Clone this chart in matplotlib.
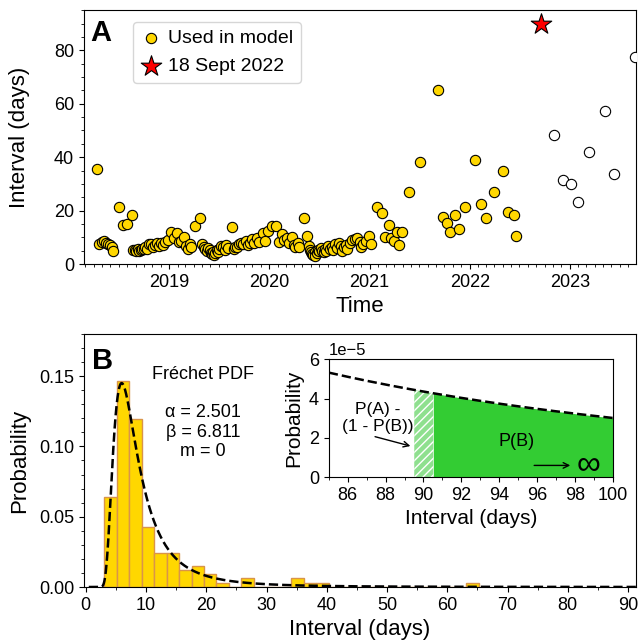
import numpy as np
import pandas as pd
import matplotlib
matplotlib.use("Agg")
import matplotlib.pyplot as plt
import matplotlib.dates as mdates
from matplotlib.ticker import MultipleLocator, FormatStrFormatter

plt.rcParams['font.family'] = ['Liberation Sans', 'DejaVu Sans']

# %% data

star_date = pd.Timestamp("2022-09-18")
star_interval = 90

# intervals (days) used in the model, in time order
used_intervals = [
    35.5, 7.5, 8.2, 8.5, 7.9, 7.6, 7.0, 6.2, 4.8, 21.2, 14.5, 14.9, 18.2,
    # mid 2018 -> 2019
    5.2, 5.4, 4.8, 5.6, 4.9, 5.3, 5.5,
    5.8, 6.2, 5.6, 7.6, 7.4, 6.4, 7.0, 7.8, 6.8, 8.0, 7.2, 8.4, 9.0,
    11.9,
    9.6, 11.8, 8.2, 8.8, 10.0, 6.6, 5.8, 7.4, 6.2,
    14.3, 17.4,
    7.6, 6.4, 5.6, 4.8, 6.0, 5.2, 4.2, 3.6, 4.4, 3.2, 4.0, 5.3, 4.6, 5.8, 6.8, 6.2, 5.4, 7.0, 6.0,
    14.0,
    5.8, 6.4, 6.2, 7.6, 7.8, 7.4, 8.6, 7.2, 8.0, 9.4, 7.8, 9.8, 8.4, 11.6, 8.8, 12.4,
    # 2020
    14.3, 14.3,
    8.2, 11.3, 9.0, 9.6, 8.0, 10.2, 7.0, 6.4, 7.8, 6.2,
    17.4, 10.6,
    6.6, 5.2, 4.4, 3.8, 3.3, 4.6, 3.05, 4.2, 5.4, 4.7, 6.0, 4.9, 4.5,
    5.6, 4.8, 6.8, 5.8, 6.4, 5.2, 7.4, 6.0, 7.8, 6.6, 5.0,
    6.4, 7.2, 5.6, 8.0, 9.0, 9.4, 9.8, 8.4, 6.2, 7.6, 8.8, 10.4, 7.4,
    # 2021 -> mid 2022
    21.5, 19.0, 10.1, 14.5, 9.8, 8.8, 11.9, 7.0, 11.9, 26.8, 38.1, 65.2,
    17.5, 15.4, 11.9, 18.5, 13.1, 21.3, 38.9, 22.4, 17.4, 26.9, 34.7, 19.5,
    18.4, 10.5,
]

# intervals after 18 Sept 2022 (not used in model)
later_intervals = [48.2, 31.5, 30.0, 23.4, 41.8, 57.2, 33.8, 77.6]

alpha_f = 2.501
beta_f = 6.811
m_f = 0


def frechet_pdf(x, a, b, m):
    z = (x - m) / b
    return (a / b) * z ** (-1 - a) * np.exp(-z ** (-a))


# event dates: last used event is star_interval days before the star
used = np.array(used_intervals)
last_used = star_date - pd.Timedelta(days=star_interval)
rc = np.cumsum(used[::-1])[::-1]
back = np.append(rc[1:], 0.0)
used_dates = last_used - pd.to_timedelta(back, unit="D")
later = np.array(later_intervals)
later_dates = star_date + pd.to_timedelta(np.cumsum(later), unit="D")

# %% figure

fig = plt.figure(figsize=(6.41, 6.44), dpi=100)
ax1 = fig.add_axes([0.131, 0.590, 0.861, 0.394])
ax2 = fig.add_axes([0.131, 0.0885, 0.861, 0.393])
ax3 = fig.add_axes([0.513, 0.259, 0.443, 0.183])

gold = "#FFD700"

# Panel A
ax1.scatter(used_dates, used, s=55, c=gold, edgecolors="black", linewidths=0.8,
            label="Used in model", zorder=3)
ax1.scatter(later_dates, later, s=55, facecolors="white", edgecolors="black",
            linewidths=0.8, zorder=3)
ax1.scatter([star_date], [star_interval], marker="*", s=240, c="red",
            edgecolors="black", linewidths=0.8, label="18 Sept 2022", zorder=4)
ax1.set_xlim(pd.Timestamp("2018-02-25"), later_dates[-1] + pd.Timedelta(days=2))
ax1.set_ylim(0, 95)
ax1.xaxis.set_major_locator(mdates.YearLocator())
ax1.xaxis.set_minor_locator(mdates.MonthLocator())
ax1.xaxis.set_major_formatter(mdates.DateFormatter("%Y"))
ax1.yaxis.set_major_locator(MultipleLocator(20))
ax1.yaxis.set_minor_locator(MultipleLocator(5))
ax1.set_xlabel("Time", fontsize=16)
ax1.set_ylabel("Interval (days)", fontsize=16)
ax1.yaxis.set_label_coords(-0.097, 0.5)
ax1.tick_params(labelsize=13)
ax1.legend(loc="upper left", bbox_to_anchor=(0.089, 0.955), borderaxespad=0,
           fontsize=14, handlelength=1.0, handletextpad=0.4, borderpad=0.4,
           labelspacing=0.55)
ax1.text(0.012, 0.965, "A", transform=ax1.transAxes, fontsize=21,
         fontweight="bold", va="top", ha="left")

# Panel B
ax2.hist(used, bins=30, density=True, color=gold, edgecolor="#D9944A", linewidth=1.0)
xx = np.linspace(0.5, 91.5, 2000)
ax2.plot(xx, frechet_pdf(xx, alpha_f, beta_f, m_f), "k--", lw=1.8)
ax2.set_xlim(-0.3, 91.3)
ax2.set_ylim(0, 0.18)
ax2.xaxis.set_major_locator(MultipleLocator(10))
ax2.xaxis.set_minor_locator(MultipleLocator(5))
ax2.yaxis.set_major_locator(MultipleLocator(0.05))
ax2.yaxis.set_minor_locator(MultipleLocator(0.01))
ax2.yaxis.set_major_formatter(FormatStrFormatter("%.2f"))
ax2.set_xlabel("Interval (days)", fontsize=16)
ax2.set_ylabel("Probability", fontsize=16)
ax2.yaxis.set_label_coords(-0.097, 0.5)
ax2.tick_params(labelsize=13)
ax2.text(0.015, 0.95, "B", transform=ax2.transAxes, fontsize=21,
         fontweight="bold", va="top", ha="left")
ax2.text(19.5, 0.151, "Fréchet PDF", fontsize=13, ha="center", va="center")
ax2.text(19.5, 0.110, "α = %.3f\nβ = %.3f\nm = %d" % (alpha_f, beta_f, m_f),
         fontsize=13, ha="center", va="center", linespacing=1.2)

# Inset
xi = np.linspace(85, 100, 400)
yi = frechet_pdf(xi, alpha_f, beta_f, m_f)
sel = xi >= 90.5
ax3.fill_between(xi[sel], 0, yi[sel], color="#33CC33", lw=0)
selh = (xi >= 89.5) & (xi <= 90.55)
ax3.fill_between(xi[selh], 0, yi[selh], facecolor="#8FE08F", edgecolor="white",
                 hatch="////", lw=0)
ax3.plot(xi, yi, "k--", lw=1.8)
ax3.set_xlim(85, 100)
ax3.set_ylim(0, 6e-5)
ax3.xaxis.set_major_locator(MultipleLocator(2))
ax3.xaxis.set_minor_locator(MultipleLocator(1))
ax3.yaxis.set_major_locator(MultipleLocator(2e-5))
ax3.set_xlabel("Interval (days)", fontsize=15)
ax3.set_ylabel("Probability", fontsize=15)
ax3.tick_params(labelsize=13)
ax3.yaxis.get_offset_text().set_fontsize(12)
ax3.text(87.6, 3.0e-5, "P(A) -\n(1 - P(B))", fontsize=12.5, ha="center", va="center")
ax3.annotate("", xy=(89.45, 1.55e-5), xytext=(87.3, 2.1e-5),
             arrowprops=dict(arrowstyle="->", color="black", lw=1.0))
ax3.text(94.9, 1.8e-5, "P(B)", fontsize=13, ha="center", va="center")
ax3.annotate("", xy=(97.9, 0.6e-5), xytext=(95.7, 0.6e-5),
             arrowprops=dict(arrowstyle="->", color="black", lw=1.0))
ax3.text(98.7, 0.62e-5, "∞", fontsize=24, ha="center", va="center")

fig.savefig("out.png", dpi=100)
